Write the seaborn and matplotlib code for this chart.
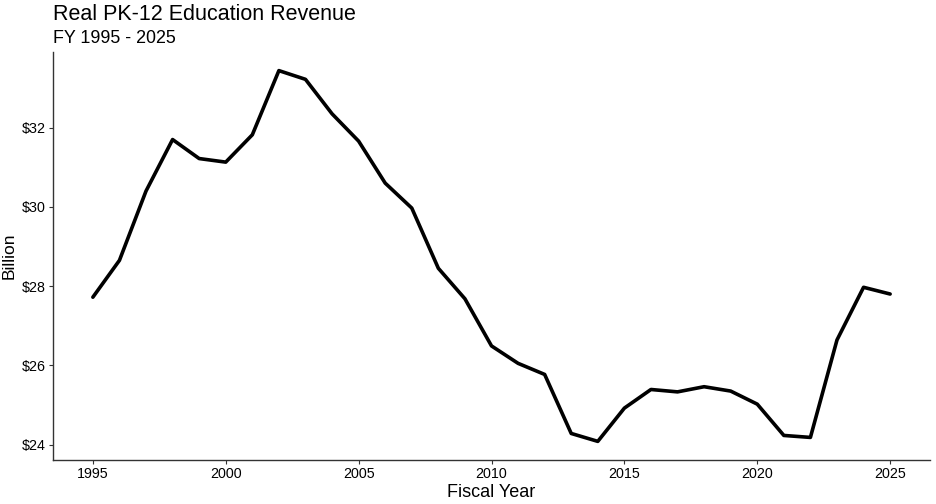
import matplotlib
matplotlib.use("Agg")
import matplotlib.pyplot as plt
import seaborn as sns
import pandas as pd

# Real PK-12 education revenue, billions
years = list(range(1995, 2026))
revenue = [27.72, 28.65, 30.40, 31.70, 31.22, 31.13, 31.82, 33.44, 33.22, 32.35,
           31.66, 30.60, 29.97, 28.45, 27.68, 26.49, 26.05, 25.77, 24.28, 24.08,
           24.92, 25.39, 25.33, 25.46, 25.35, 25.02, 24.23, 24.18, 26.64, 27.97, 27.80]
x_ticks = [1995, 2000, 2005, 2010, 2015, 2020, 2025]
y_ticks = [24, 26, 28, 30, 32]

df = pd.DataFrame({"year": years, "revenue": revenue})

sns.set_style("white")
plt.rcParams['font.family'] = ['Liberation Sans', 'DejaVu Sans']
plt.rcParams['text.color'] = 'black'
plt.rcParams['axes.labelcolor'] = 'black'

fig = plt.figure(figsize=(9.36, 5.04), dpi=100)
ax = fig.add_axes([53/936, 44/504, (930-53)/936, (460-52)/504])

sns.lineplot(data=df, x="year", y="revenue", color="black", linewidth=2.6, ax=ax)

ax.set_xlim(1993.5, 2026.5)
ax.set_ylim(23.61, 33.91)
ax.set_xticks(x_ticks)
ax.set_yticks(y_ticks)
ax.set_yticklabels(["$%d" % v for v in y_ticks])
ax.tick_params(axis="both", labelsize=10.3, colors="#333333", length=3,
               width=0.8, direction="out", pad=2, labelcolor="black")
ax.tick_params(axis="both", bottom=True, left=True)

for side in ["top", "right"]:
    ax.spines[side].set_visible(False)
for side in ["left", "bottom"]:
    ax.spines[side].set_color("#333333")
    ax.spines[side].set_linewidth(1.0)

ax.set_xlabel("Fiscal Year", fontsize=13, labelpad=2)
ax.set_ylabel("Billion", fontsize=12.5, labelpad=4)

fig.text(53/936, 1 - 20/504, "Real PK-12 Education Revenue", fontsize=15.5,
         ha="left", va="baseline")
fig.text(53/936, 1 - 43/504, "FY 1995 - 2025", fontsize=12.9,
         ha="left", va="baseline")

fig.savefig("out.png", dpi=100)
